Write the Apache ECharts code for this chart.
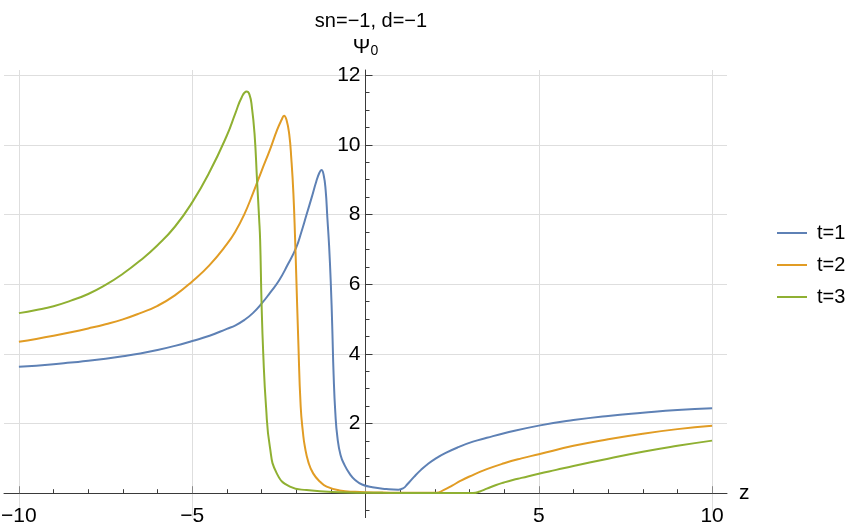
<!DOCTYPE html>
<html>
<head>
<meta charset="utf-8">
<script src="https://cdn.jsdelivr.net/npm/echarts@6/dist/echarts.min.js"></script>
<style>
html, body { margin: 0; padding: 0; background: #fff; }
#chart { width: 857px; height: 530px; }
</style>
</head>
<body>
<div id="chart"></div>
<script>
// t=1
var z1 = [-10, -9.5, -9, -8.5, -8, -7.5, -7, -6.5, -6, -5.5, -5, -4.5, -4.0, -3.75, -3.5, -3.25, -3.0, -2.75, -2.5, -2.25,
    -2.0, -1.85, -1.7, -1.55, -1.42, -1.33, -1.27, -1.21, -1.15, -1.1, -1.05, -1.0, -0.96, -0.92, -0.87, -0.81, -0.72,
    -0.6, -0.45, -0.3, -0.1, 0.2, 0.6, 0.95, 1.1, 1.2, 1.4, 1.6, 1.8, 2.0, 2.3, 2.7, 3.1, 3.5, 4.0, 5.0, 6.0, 7.0, 8.0,
    9.0, 10];
var psi1 = [3.63, 3.66, 3.70, 3.75, 3.80, 3.86, 3.93, 4.01, 4.11, 4.23, 4.37, 4.52, 4.72, 4.82, 4.97, 5.17, 5.44, 5.76, 6.1, 6.55,
    7.05, 7.5, 8.0, 8.5, 8.95, 9.2, 9.28, 9.15, 8.7, 7.9, 7.1, 6.0, 4.8, 3.4, 2.3, 1.6, 1.1,
    0.8, 0.55, 0.38, 0.25, 0.17, 0.12, 0.10, 0.15, 0.25, 0.47, 0.67, 0.84, 0.98, 1.15, 1.33, 1.48, 1.59, 1.72, 1.94, 2.1, 2.22, 2.31,
    2.39, 2.44];

// t=2
var z2 = [-10, -9.5, -9, -8.5, -8, -7.5, -7, -6.5, -6, -5.5, -5, -4.5, -4.0, -3.75, -3.5, -3.25, -3.0, -2.75, -2.55, -2.42,
    -2.35, -2.28, -2.2, -2.14, -2.08, -2.03, -2.0, -1.94, -1.87, -1.8, -1.75, -1.65, -1.51, -1.3, -1.12, -0.75, -0.3,
    0.5, 1.5, 2.05, 2.25, 2.5, 2.75, 3.0, 3.5, 4.0, 4.5, 5.0, 6.0, 7.0, 8.0, 9.0, 10];
var psi2 = [4.35, 4.43, 4.52, 4.62, 4.73, 4.85, 4.99, 5.17, 5.38, 5.68, 6.08, 6.55, 7.15, 7.52, 8.0, 8.6, 9.25, 9.88, 10.43, 10.72,
    10.84, 10.72, 10.3, 9.6, 8.6, 7.27, 6.32, 4.4, 2.49, 1.7, 1.34, 0.9, 0.57, 0.32, 0.19, 0.08, 0.04,
    0.02, 0.01, 0.01, 0.09, 0.22, 0.36, 0.48, 0.69, 0.86, 1.0, 1.12, 1.36, 1.55, 1.71, 1.84, 1.94];

// t=3
var z3 = [-10, -9.5, -9, -8.5, -8, -7.5, -7, -6.5, -6, -5.5, -5, -4.5, -4.0, -3.75, -3.57, -3.43, -3.35, -3.28, -3.2, -3.13,
    -3.07, -3.04, -3.0, -2.95, -2.87, -2.76, -2.56, -2.18, -1.7, -0.74, 0.5, 2.0, 3.1, 3.3, 3.5, 3.75, 4.0, 4.25, 4.5, 5.0,
    5.5, 6.0, 7.0, 8.0, 9.0, 10];
var psi3 = [5.17, 5.26, 5.37, 5.53, 5.72, 5.98, 6.3, 6.68, 7.12, 7.65, 8.35, 9.22, 10.27, 10.92, 11.37, 11.53, 11.45, 11.1, 10.3, 9.0,
    7.9, 7.27, 5.5, 4.0, 2.49, 1.34, 0.57, 0.19, 0.09, 0.03, 0.01, 0.005, 0.005, 0.05, 0.13, 0.23, 0.31, 0.38, 0.44, 0.56,
    0.67, 0.78, 0.99, 1.19, 1.36, 1.51];

var seriesNames = ['t=1', 't=2', 't=3'];
var seriesColors = ['#5E81B5', '#E19C24', '#8FB032'];

var xGrid = [-10, -5, 0, 5, 10];
var xLabels = [-10, -5, 5, 10];
var xMinor = [-9, -8, -7, -6, -4, -3, -2, -1, 1, 2, 3, 4, 6, 7, 8, 9];
var yGrid = [2, 4, 6, 8, 10, 12];
var yMinor = [-0.5, 0.5, 1, 1.5, 2.5, 3, 3.5, 4.5, 5, 5.5, 6.5, 7, 7.5, 8.5, 9, 9.5, 10.5, 11, 11.5];

var font = 'Liberation Sans, Arial, sans-serif';
var axisColor = '#3a3a3a';
var gridColor = '#dedede';
var xMin = -10.43, xMax = 10.43, yMin = -0.7, yMax = 12.15;

function pairs(xs, ys) {
    return xs.map(function (x, i) { return [x, ys[i]]; });
}
function minus(v) {
    return String(v).replace('-', '\u2212');
}

var chart = echarts.init(document.getElementById('chart'));

// grid 0: plot; grid 1: y labels, left edge on z=0; grid 2: x labels, bottom edge on psi=0
// (v6 keeps labels at the grid edge even when the axis line sits on zero)
var plotLeft = 4, plotTop = 70, plotW = 723, plotH = 447.6;
var zeroX = plotLeft + plotW * (0 - xMin) / (xMax - xMin);
var zeroY = plotTop + plotH * (yMax - 0) / (yMax - yMin);

var hiddenAxis = { show: false, min: 0, max: 1, type: 'value' };

var option = {
    backgroundColor: '#fff',
    animation: false,
    title: {
        text: 'sn=\u22121, d=\u22121',
        left: 366,
        top: 6,
        textAlign: 'center',
        textStyle: { fontFamily: font, fontSize: 20, fontWeight: 'normal', color: '#000' }
    },
    legend: {
        orient: 'vertical',
        left: 772,
        top: 218,
        itemWidth: 30,
        itemHeight: 2,
        itemGap: 12,
        icon: 'rect',
        data: seriesNames,
        textStyle: { fontFamily: font, fontSize: 20, color: '#000', padding: [0, 0, 0, 5] }
    },
    grid: [
        { left: plotLeft, top: plotTop, width: plotW, height: plotH, outerBoundsMode: 'none' },
        { left: zeroX, top: plotTop, width: plotLeft + plotW - zeroX, height: zeroY - plotTop, outerBoundsMode: 'none' },
        { left: plotLeft, top: plotTop, width: plotW, height: zeroY - plotTop, outerBoundsMode: 'none' }
    ],
    xAxis: [{
        type: 'value',
        gridIndex: 0,
        min: xMin,
        max: xMax,
        position: 'bottom',
        name: 'z',
        nameLocation: 'end',
        nameGap: 12,
        nameTextStyle: { fontFamily: font, fontSize: 21, color: '#000' },
        axisLine: { onZero: true, lineStyle: { color: axisColor, width: 1 } },
        axisTick: { show: true, inside: true, length: 7, customValues: xGrid, lineStyle: { color: '#888' } },
        axisLabel: { show: false },
        splitLine: { show: true, lineStyle: { color: gridColor, width: 1 } }
    }, {
        type: 'value',
        gridIndex: 0,
        min: xMin,
        max: xMax,
        position: 'bottom',
        axisLine: { show: false, onZero: true },
        axisTick: { show: true, inside: true, length: 4, customValues: xMinor, lineStyle: { color: axisColor } },
        axisLabel: { show: false },
        splitLine: { show: false }
    }, Object.assign({ gridIndex: 1 }, hiddenAxis), {
        type: 'value',
        gridIndex: 2,
        min: xMin,
        max: xMax,
        position: 'bottom',
        axisLine: { show: false, onZero: false },
        axisTick: { show: false },
        axisLabel: { customValues: xLabels, formatter: minus, margin: 12, fontFamily: font, fontSize: 21, color: '#000' },
        splitLine: { show: false }
    }],
    yAxis: [{
        type: 'value',
        gridIndex: 0,
        min: yMin,
        max: yMax,
        position: 'left',
        name: '{a|\u03A8}{b|0}',
        nameLocation: 'end',
        nameGap: 12,
        nameTextStyle: {
            rich: {
                a: { fontFamily: font, fontSize: 21, color: '#000' },
                b: { fontFamily: font, fontSize: 14, color: '#000', verticalAlign: 'bottom', padding: [8, 0, 0, 0] }
            }
        },
        axisLine: { onZero: true, lineStyle: { color: axisColor, width: 1 } },
        axisTick: { show: true, inside: true, length: 7, customValues: yGrid, lineStyle: { color: axisColor } },
        axisLabel: { show: false },
        splitLine: { show: true, lineStyle: { color: gridColor, width: 1 } }
    }, {
        type: 'value',
        gridIndex: 0,
        min: yMin,
        max: yMax,
        position: 'left',
        axisLine: { show: false, onZero: true },
        axisTick: { show: true, inside: true, length: 4, customValues: yMinor, lineStyle: { color: axisColor } },
        axisLabel: { show: false },
        splitLine: { show: false }
    }, {
        type: 'value',
        gridIndex: 1,
        min: 0,
        max: yMax,
        position: 'left',
        axisLine: { show: false, onZero: false },
        axisTick: { show: false },
        axisLabel: { customValues: yGrid, margin: 5, fontFamily: font, fontSize: 21, color: '#000' },
        splitLine: { show: false }
    }, Object.assign({ gridIndex: 2 }, hiddenAxis)],
    series: [
        { name: seriesNames[0], data: pairs(z1, psi1) },
        { name: seriesNames[1], data: pairs(z2, psi2) },
        { name: seriesNames[2], data: pairs(z3, psi3) }
    ].map(function (s, i) {
        return {
            name: s.name,
            type: 'line',
            data: s.data,
            xAxisIndex: 0,
            yAxisIndex: 0,
            symbol: 'none',
            smooth: 0.5,
            color: seriesColors[i],
            lineStyle: { color: seriesColors[i], width: 2 }
        };
    })
};

chart.setOption(option);
</script>
</body>
</html>
